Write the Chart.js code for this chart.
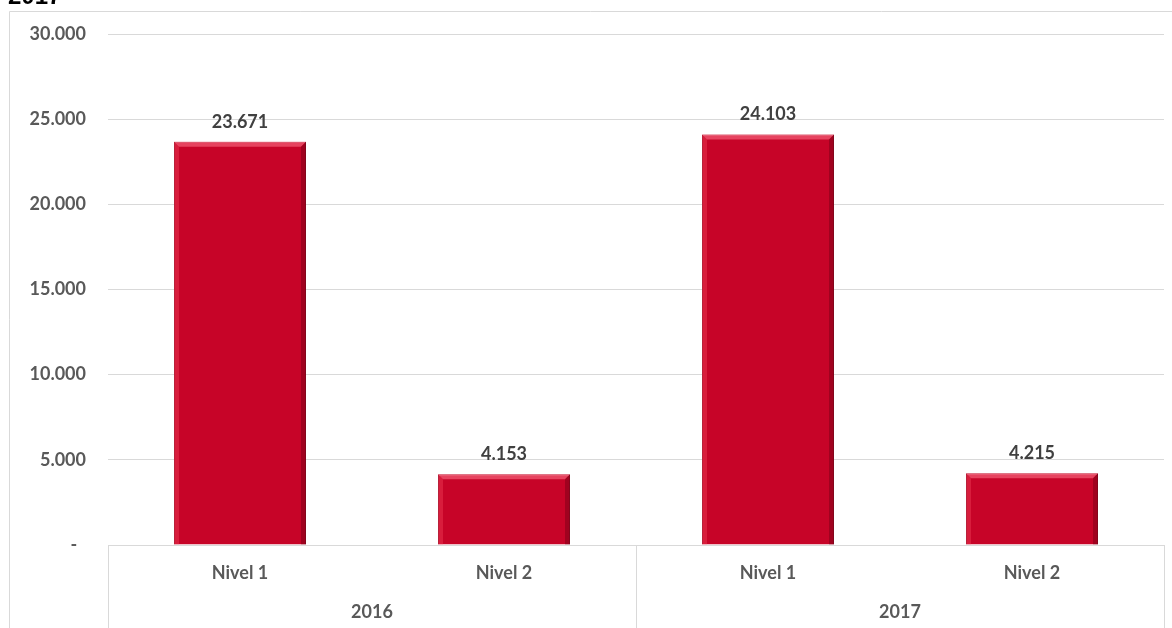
<!DOCTYPE html>
<html>
<head>
<meta charset="utf-8">
<script src="https://cdn.jsdelivr.net/npm/chart.js@4/dist/chart.umd.min.js"></script>
<style>
  html, body { margin: 0; padding: 0; background: #fff; }
  canvas { display: block; }
</style>
</head>
<body>
<canvas id="chart" width="1172" height="628"></canvas>
<script>
const titleTail = '2017';
const levels = ['Nivel 1', 'Nivel 2', 'Nivel 1', 'Nivel 2'];
const years = ['2016', '2017'];
const values = [23671, 4153, 24103, 4215];
const yTicks = [0, 5000, 10000, 15000, 20000, 25000, 30000];

const GRID = '#d9d9d9';
const TEXT = '#595959';
const LABEL = '#404040';
const RED = '#c70428';
const font = { family: 'Lato, "Open Sans", sans-serif', size: 18, weight: 'bold' };

const fmt = (v) => String(v).replace(/\B(?=(\d{3})+(?!\d))/g, '.');

// frame, clipped title and the two-level category box
const framePlugin = {
  id: 'frame',
  beforeDraw: (chart) => {
    const { ctx, width, height } = chart;
    ctx.save();
    ctx.strokeStyle = GRID;
    ctx.lineWidth = 1;
    ctx.beginPath();
    ctx.moveTo(9.5, height);
    ctx.lineTo(9.5, 11.5);
    ctx.lineTo(width, 11.5);
    ctx.stroke();
    ctx.fillStyle = '#000';
    ctx.font = 'bold 24px "Liberation Sans", Arial, sans-serif';
    ctx.textBaseline = 'alphabetic';
    ctx.fillText(titleTail, 8, 4);
    ctx.restore();
  },
  afterDraw: (chart) => {
    const { ctx, chartArea, height } = chart;
    const x = chart.scales.x;
    const mid = (x.getPixelForValue(1) + x.getPixelForValue(2)) / 2;
    ctx.save();
    ctx.strokeStyle = GRID;
    ctx.lineWidth = 1;
    ctx.beginPath();
    [chartArea.left, mid, chartArea.right].forEach((px) => {
      const p = Math.round(px) + 0.5;
      ctx.moveTo(p, chartArea.bottom);
      ctx.lineTo(p, height);
    });
    ctx.stroke();
    ctx.restore();
  }
};

// bevelled bars and value labels
const barDecor = {
  id: 'barDecor',
  afterDatasetsDraw: (chart) => {
    const { ctx } = chart;
    const meta = chart.getDatasetMeta(0);
    ctx.save();
    meta.data.forEach((bar, i) => {
      const l = bar.x - bar.width / 2;
      const r = bar.x + bar.width / 2;
      const t = bar.y;
      const b = bar.base;
      const e = 5;
      ctx.fillStyle = 'rgba(255,120,140,0.55)';
      ctx.beginPath();
      ctx.moveTo(l, t); ctx.lineTo(r, t); ctx.lineTo(r - e, t + e); ctx.lineTo(l + e, t + e);
      ctx.closePath(); ctx.fill();
      ctx.fillStyle = 'rgba(255,90,110,0.3)';
      ctx.beginPath();
      ctx.moveTo(l, t); ctx.lineTo(l + e, t + e); ctx.lineTo(l + e, b); ctx.lineTo(l, b);
      ctx.closePath(); ctx.fill();
      ctx.fillStyle = 'rgba(90,0,15,0.35)';
      ctx.beginPath();
      ctx.moveTo(r, t); ctx.lineTo(r - e, t + e); ctx.lineTo(r - e, b); ctx.lineTo(r, b);
      ctx.closePath(); ctx.fill();
      ctx.fillStyle = LABEL;
      ctx.font = `${font.weight} ${font.size}px ${font.family}`;
      ctx.textAlign = 'center';
      ctx.textBaseline = 'alphabetic';
      ctx.fillText(fmt(values[i]), bar.x, t - 14);
    });
    ctx.restore();
  }
};

new Chart(document.getElementById('chart'), {
  type: 'bar',
  data: {
    labels: levels,
    datasets: [{
      data: values,
      backgroundColor: RED,
      borderColor: '#9a0a24',
      borderWidth: 1,
      categoryPercentage: 0.5,
      barPercentage: 1
    }]
  },
  options: {
    responsive: false,
    animation: false,
    layout: { padding: { left: 0, right: 8, top: 34, bottom: 0 } },
    plugins: { legend: { display: false }, tooltip: { enabled: false } },
    scales: {
      x: {
        grid: { display: false, tickLength: 0 },
        border: { display: false },
        afterFit: (scale) => { scale.height = 40; },
        ticks: { color: TEXT, font, padding: 17, maxRotation: 0 }
      },
      x2: {
        type: 'category',
        labels: years,
        offset: true,
        position: 'bottom',
        grid: { display: false, tickLength: 0 },
        border: { display: false },
        afterFit: (scale) => { scale.height = 43; },
        ticks: { color: TEXT, font, padding: 16, maxRotation: 0 }
      },
      y: {
        min: 0,
        max: 30000,
        afterBuildTicks: (scale) => { scale.ticks = yTicks.map((v) => ({ value: v })); },
        afterFit: (scale) => { scale.width = 108; },
        grid: { color: GRID, drawTicks: false },
        border: { display: false },
        ticks: {
          color: TEXT,
          font,
          padding: 22,
          callback: (v) => (v === 0 ? '-  ' : fmt(v))
        }
      }
    }
  },
  plugins: [framePlugin, barDecor]
});
</script>
</body>
</html>
